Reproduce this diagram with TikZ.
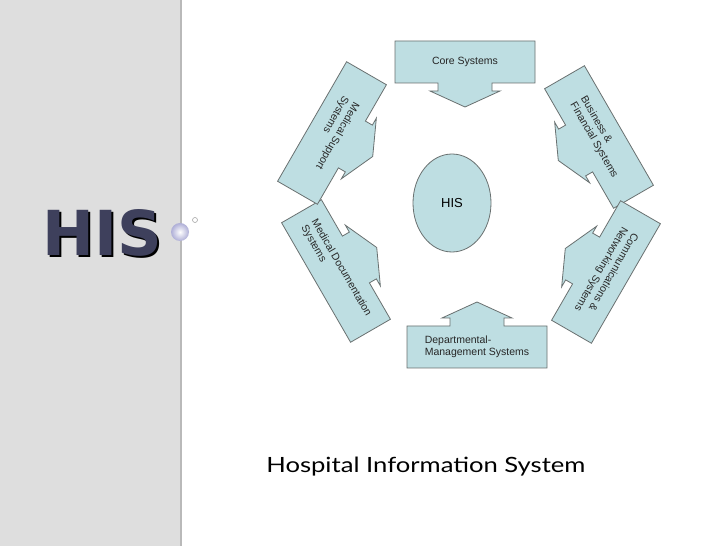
\documentclass[tikz,border=0pt]{standalone}
\usepackage{fontspec}
\usetikzlibrary{shapes.geometric}
\setmainfont{Liberation Sans}
\newfontfamily\capfont{Lato}
\newfontfamily\hisfont{DejaVu Sans}
\definecolor{boxfill}{RGB}{190,222,226}
\definecolor{boxline}{RGB}{105,112,112}
\definecolor{slate}{RGB}{62,64,92}
\definecolor{panel}{RGB}{222,222,222}
\definecolor{lav}{RGB}{175,175,215}
\tikzset{
  cbox/.style={draw=boxline,fill=boxfill,line width=0.8pt,line join=miter},
  lbl/.style={font=\fontsize{10.5}{12}\selectfont,align=left,text=black!85},
}
\newcommand\callbox[8]{%
  \begin{scope}[shift={(#2,#3)},rotate=#4,yscale=#5]
    \draw[cbox] (-#6/2,#7/2) -- (#6/2,#7/2) -- (#6/2,-#7/2) -- (27,-#7/2) -- (27,-#7/2-8)
      -- (35,-#7/2-8) -- (0,-#7/2-24) -- (-35,-#7/2-8) -- (-27,-#7/2-8) -- (-27,-#7/2)
      -- (-#6/2,-#7/2) -- cycle;
  \end{scope}
  \node[lbl,rotate=#4] (#1) at (#2,#3) {#8};}
\begin{document}
\begin{tikzpicture}[x=1pt,y=1pt]
\useasboundingbox (0,0) rectangle (728,546);
\fill[white] (0,0) rectangle (728,546);
\fill[panel] (0,0) rectangle (181,546);
\draw[gray!55,line width=1.2pt] (181,0) -- (181,546);
% title with shadow
\node[font=\hisfont\bfseries\fontsize{62}{62}\selectfont,text=slate,
      preaction={}] (his) at (102,312) {\makebox[0pt][l]{\kern2.5pt\raisebox{-2.5pt}{\color{black}HIS}}HIS};
\shade[inner color=white,outer color=lav] (180,314) circle (9);
\draw[gray!70,line width=0.6pt] (195,326) circle (2.5);
% center
\node[draw=boxline,fill=boxfill,line width=0.8pt,ellipse,minimum width=78,minimum height=98,inner sep=0,font=\fontsize{13}{14}\selectfont] (core) at (452,343) {HIS};
% callouts
\callbox{cs}{465}{484}{0}{1}{140}{42}{Core Systems}
\callbox{bf}{599}{409}{-60}{1}{138}{46}{Business \&\\Financial Systems}
\callbox{cn}{606}{274}{-120}{1}{138}{46}{Communications \&\\Networking Systems}
\callbox{dm}{477}{199}{0}{-1}{140}{42}{Departmental-\\Management Systems}
\callbox{md}{336}{275}{-60}{-1}{138}{46}{Medical Documentation\\Systems}
\callbox{ms}{332}{413}{-120}{-1}{138}{46}{Medical Support\\Systems}
% caption
\node[font=\capfont\fontsize{21}{24}\selectfont,anchor=base west,xscale=1.22] (cap) at (262,73) {Hospital Information System};
\end{tikzpicture}
\end{document}
